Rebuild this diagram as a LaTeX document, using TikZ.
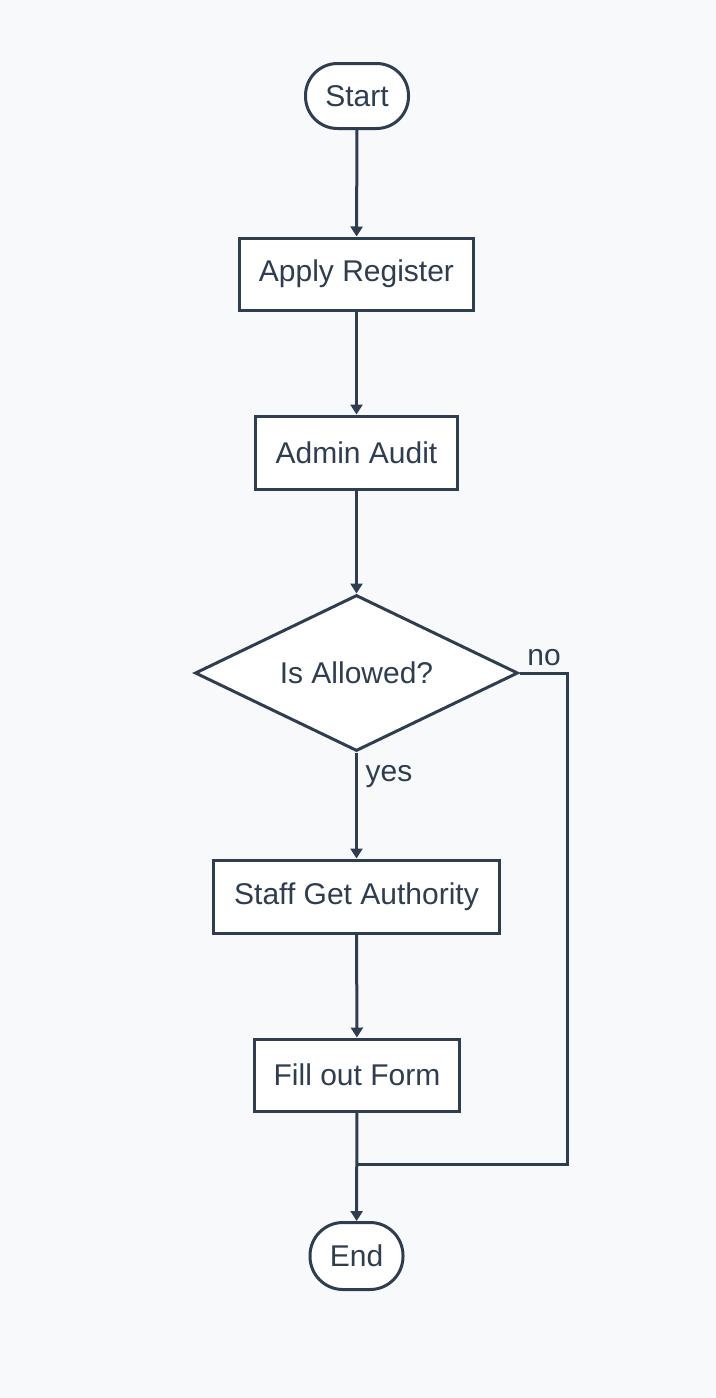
\documentclass[tikz,border=0pt]{standalone}
\usepackage{fontspec}
\setmainfont{Liberation Sans}
\usepackage{tikz}
\usetikzlibrary{shapes.geometric, arrows.meta, positioning, calc}
\definecolor{flowline}{HTML}{2E3E50}
\definecolor{flowbg}{HTML}{F8F9FA}

\tikzset{
    box/.style={draw=flowline, line width=1.5pt, fill=white, rectangle, inner sep=0pt,
        text=flowline, font=\fontsize{15}{18}\selectfont},
    terminal/.style={box, rounded corners=16pt},
    decision/.style={box, diamond, aspect=2, inner sep=0pt},
    arrowline/.style={draw=flowline, line width=1.5pt, -{Triangle[width=6pt,length=5pt]}},
    plainline/.style={draw=flowline, line width=1.5pt},
    edgelabel/.style={text=flowline, font=\fontsize{15}{18}\selectfont, inner sep=1pt}
}

\begin{document}
\begin{tikzpicture}[x=0.5pt, y=-0.5pt]
    % Background
    \fill[flowbg] (0, 0) rectangle (716, 1398);
    \useasboundingbox (0, 0) rectangle (716, 1398);

    % Nodes
    \node[terminal, minimum width=51.5pt, minimum height=32.5pt] (start) at (357, 96) {Start};
    \node[box, minimum width=117pt, minimum height=36pt] (apply) at (356.5, 274) {Apply Register};
    \node[box, minimum width=101pt, minimum height=36.5pt] (audit) at (356.5, 452.5) {Admin Audit};
    \node[decision, minimum width=161.5pt, minimum height=78pt] (allowed) at (356.5, 673) {Is Allowed?};
    \node[box, minimum width=143pt, minimum height=36.5pt] (staff) at (356.5, 896.5) {Staff Get Authority};
    \node[box, minimum width=102.5pt, minimum height=36pt] (form) at (357, 1075) {Fill out Form};
    \node[terminal, minimum width=46.5pt, minimum height=33.5pt, rounded corners=16.5pt] (end) at (356.5, 1256) {End};

    % Join points
    \coordinate (noturn) at (567, 1164);
    \coordinate (join) at (356.5, 1164);

    % Connectors
    \draw[arrowline] (start) -- (apply);
    \draw[arrowline] (apply) -- (audit);
    \draw[arrowline] (audit) -- (allowed);
    \draw[arrowline] (allowed) -- (staff);
    \draw[arrowline] (staff) -- (form);
    \draw[arrowline] (form) -- (end);
    \draw[plainline] (allowed.east) -| (noturn) -- (join);

    % Labels
    \node[edgelabel] (nolabel) at (544, 658) {no};
    \node[edgelabel] (yeslabel) at (389, 777) {yes};
\end{tikzpicture}
\end{document}
